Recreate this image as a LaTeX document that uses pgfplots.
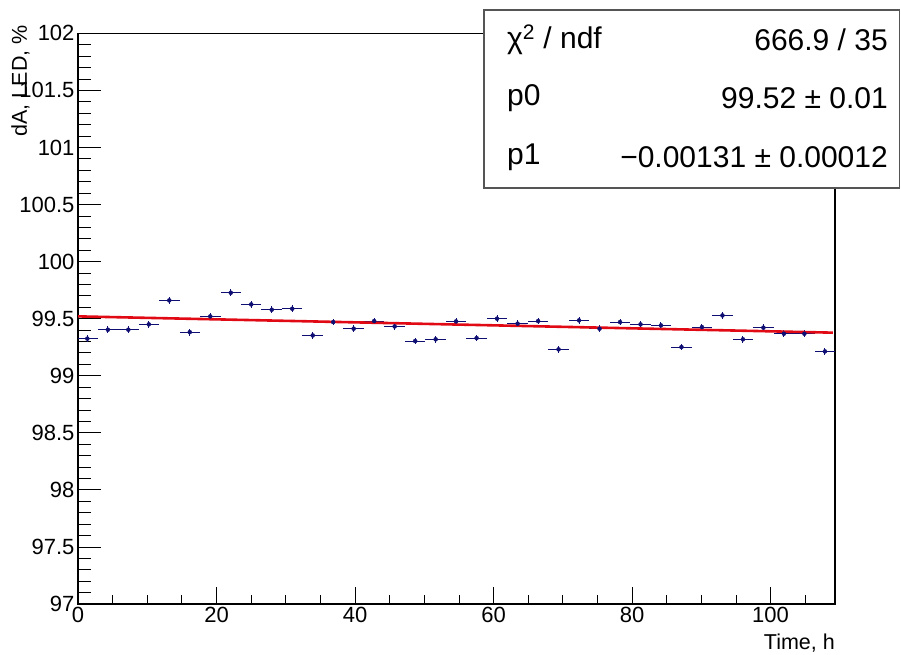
\documentclass[border=0pt]{standalone}
\usepackage{pgfplots}
\usepackage{pgfplotstable}
\pgfplotsset{compat=1.18}
\usepackage{fontspec}
\setmainfont{Liberation Sans}
\definecolor{rootblue}{RGB}{15,15,115}
\definecolor{rootred}{RGB}{225,10,20}
\definecolor{boxgray}{RGB}{85,85,85}

\pgfplotstableread{
x y ex ey
1.35 99.325 1.48 0.03
4.31 99.403 1.48 0.03
7.27 99.403 1.48 0.03
10.22 99.450 1.48 0.03
13.18 99.660 1.48 0.03
16.14 99.382 1.48 0.03
19.10 99.520 1.48 0.03
22.06 99.727 1.48 0.03
25.01 99.625 1.48 0.03
27.97 99.578 1.48 0.03
30.93 99.587 1.48 0.03
33.89 99.353 1.48 0.03
36.85 99.470 1.48 0.03
39.80 99.412 1.48 0.03
42.76 99.479 1.48 0.03
45.72 99.432 1.48 0.03
48.68 99.304 1.48 0.03
51.64 99.319 1.48 0.03
54.59 99.476 1.48 0.03
57.55 99.330 1.48 0.03
60.51 99.500 1.48 0.03
63.47 99.456 1.48 0.03
66.43 99.479 1.48 0.03
69.38 99.231 1.48 0.03
72.34 99.485 1.48 0.03
75.30 99.412 1.48 0.03
78.26 99.470 1.48 0.03
81.22 99.450 1.48 0.03
84.17 99.441 1.48 0.03
87.13 99.251 1.48 0.03
90.09 99.426 1.48 0.03
93.05 99.528 1.48 0.03
96.01 99.319 1.48 0.03
98.96 99.421 1.48 0.03
101.92 99.368 1.48 0.03
104.88 99.368 1.48 0.03
107.84 99.213 1.48 0.03
}\datatable

\begin{document}
\begin{tikzpicture}
\begin{axis}[
  at={(78pt,51pt)}, anchor=south west,
  scale only axis, width=757pt, height=570.7pt,
  xmin=0, xmax=109.3, ymin=97, ymax=102,
  xtick={0,20,40,60,80,100},
  minor xtick={5,10,15,25,30,35,45,50,55,65,70,75,85,90,95,105},
  ytick={97,97.5,98,98.5,99,99.5,100,100.5,101,101.5,102},
  minor ytick={97.1,97.2,97.3,97.4,97.6,97.7,97.8,97.9,98.1,98.2,98.3,98.4,98.6,98.7,98.8,98.9,99.1,99.2,99.3,99.4,99.6,99.7,99.8,99.9,100.1,100.2,100.3,100.4,100.6,100.7,100.8,100.9,101.1,101.2,101.3,101.4,101.6,101.7,101.8,101.9},
  yticklabels={97,97.5,98,98.5,99,99.5,100,100.5,101,101.5,102},
  xticklabels={0,20,40,60,80,100},
  tick align=inside, xtick pos=left, ytick pos=left,
  major tick length=20pt, minor tick length=11pt,
  xtick style={/pgfplots/major tick length=17pt, /pgfplots/minor tick length=9pt},
  ytick style={/pgfplots/major tick length=23pt, /pgfplots/minor tick length=13pt},
  tick style={black, line width=0.8pt},
  axis line style={line width=1.1pt},
  tick label style={font=\fontsize{22}{26}\selectfont},
  /pgf/number format/assume math mode=true,
  scaled ticks=false,
  xlabel={Time, h},
  ylabel={dA, LED, \%},
  label style={font=\fontsize{21.5}{25}\selectfont, inner sep=0pt},
  xlabel style={at={(axis description cs:1,-0.0526)}, anchor=north east},
  ylabel style={at={(axis description cs:-0.076,1.0145)}, anchor=east},
  clip=true,
]
\addplot[rootblue, only marks, mark=none,
  error bars/.cd, x dir=both, x explicit, y dir=both, y explicit,
  error mark=none, error bar style={line width=1.0pt, rootblue}]
  table[x=x, y=y, x error=ex, y error=ey] \datatable;
\addplot[rootred, line width=2.6pt] coordinates {(0,99.52) (109,99.3772)};
\end{axis}
\draw[boxgray, line width=1.3pt, fill=white] (484pt,467pt) rectangle (899.5pt,645pt);
\begin{scope}[font=\fontsize{30}{34}\selectfont]
\node[anchor=west, inner sep=0pt] at (507pt,615pt) {χ\textsuperscript{2} / ndf};
\node[anchor=east, inner sep=0pt] at (888pt,615pt) {666.9 / 35};
\node[anchor=west, inner sep=0pt] at (507pt,557pt) {p0};
\node[anchor=east, inner sep=0pt] at (888pt,557pt) {99.52 ± 0.01};
\node[anchor=west, inner sep=0pt] at (507pt,498pt) {p1};
\node[anchor=east, inner sep=0pt] at (888pt,498pt) {−0.00131 ± 0.00012};
\end{scope}
\pgfresetboundingbox
\path[use as bounding box] (0,0) rectangle (901pt,655pt);
\end{tikzpicture}
\end{document}
